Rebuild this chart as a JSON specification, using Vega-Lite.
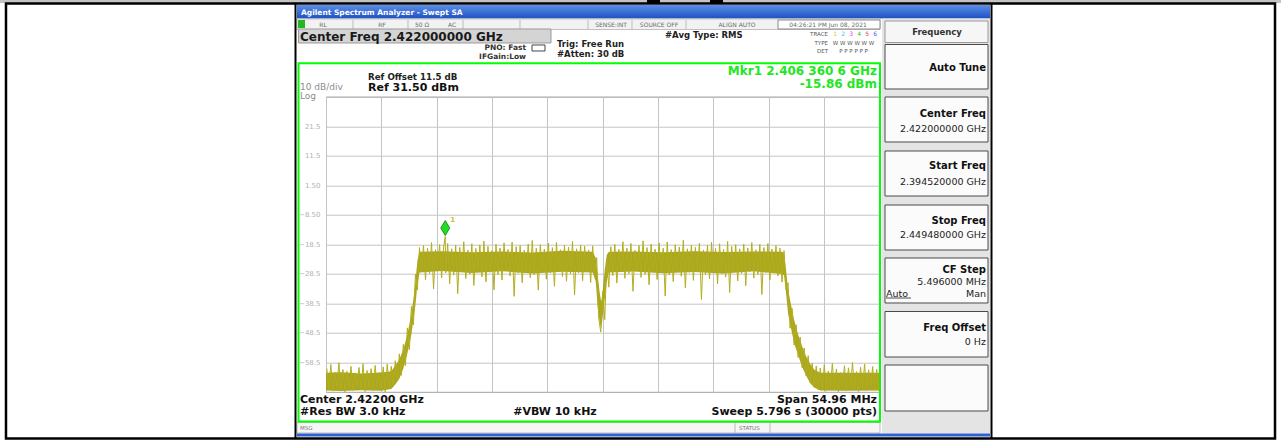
{
"$schema":"https://vega.github.io/schema/vega-lite/v6.json",
"width":553.5,"height":295.3,
"autosize":{"type":"none"},
"padding":{"left":326,"top":96.7,"right":401.5,"bottom":49},
"background":"white",
"config":{"font":"DejaVu Sans","view":{"stroke":"#8a8a8a","strokeWidth":1}},
"datasets":{
"trace":[
{"f":2394.6,"d":-60.5},{"f":2394.8,"d":-67.4},{"f":2395.0,"d":-59.2},{"f":2395.2,"d":-68.2},{"f":2395.4,"d":-61.8},{"f":2395.6,"d":-66.8},{"f":2395.8,"d":-58.6},{"f":2396.0,"d":-67.9},{"f":2396.2,"d":-60.9},{"f":2396.4,"d":-68.4},{"f":2396.6,"d":-61.5},{"f":2396.8,"d":-67.1},{"f":2397.0,"d":-59.8},{"f":2397.2,"d":-68.0},{"f":2397.4,"d":-62.0},{"f":2397.6,"d":-66.5},{"f":2397.8,"d":-60.2},{"f":2398.0,"d":-67.7},{"f":2398.2,"d":-58.9},{"f":2398.4,"d":-68.3},{"f":2398.6,"d":-61.2},{"f":2398.8,"d":-67.0},{"f":2399.0,"d":-60.6},{"f":2399.2,"d":-68.1},{"f":2399.4,"d":-59.5},{"f":2399.6,"d":-66.9},{"f":2399.8,"d":-61.9},{"f":2400.0,"d":-67.6},{"f":2400.2,"d":-60.0},{"f":2400.4,"d":-68.4},{"f":2400.6,"d":-59.1},{"f":2400.8,"d":-67.2},
{"f":2401.0,"d":-59.8},{"f":2401.2,"d":-66.5},{"f":2401.4,"d":-57.9},{"f":2401.6,"d":-64.8},{"f":2401.8,"d":-55.6},{"f":2402.0,"d":-62.9},{"f":2402.2,"d":-52.4},{"f":2402.4,"d":-59.6},{"f":2402.6,"d":-46.8},{"f":2402.8,"d":-54.2},{"f":2403.0,"d":-39.5},{"f":2403.2,"d":-45.8},{"f":2403.4,"d":-28.6},{"f":2403.6,"d":-33.9},
{"f":2403.8,"d":-19.6},{"f":2404.0,"d":-27.8},{"f":2404.2,"d":-18.9},{"f":2404.4,"d":-30.5},{"f":2404.6,"d":-19.8},{"f":2404.8,"d":-28.4},{"f":2405.0,"d":-17.9},{"f":2405.2,"d":-33.6},{"f":2405.4,"d":-20.3},{"f":2405.6,"d":-27.1},{"f":2405.8,"d":-18.6},{"f":2406.0,"d":-29.9},{"f":2406.2,"d":-19.4},{"f":2406.36,"d":-15.86},{"f":2406.4,"d":-28.2},{"f":2406.6,"d":-18.2},{"f":2406.8,"d":-31.8},{"f":2407.0,"d":-20.0},{"f":2407.2,"d":-28.9},{"f":2407.4,"d":-18.8},{"f":2407.6,"d":-35.2},{"f":2407.8,"d":-19.5},{"f":2408.0,"d":-27.6},{"f":2408.2,"d":-17.6},{"f":2408.4,"d":-30.1},{"f":2408.6,"d":-20.4},{"f":2408.8,"d":-28.6},{"f":2409.0,"d":-18.3},{"f":2409.2,"d":-32.4},{"f":2409.4,"d":-19.9},{"f":2409.6,"d":-27.3},{"f":2409.8,"d":-18.7},{"f":2410.0,"d":-29.5},{"f":2410.2,"d":-17.4},{"f":2410.4,"d":-31.2},{"f":2410.6,"d":-19.2},{"f":2410.8,"d":-28.0},{"f":2411.0,"d":-20.6},{"f":2411.2,"d":-33.9},{"f":2411.4,"d":-18.5},{"f":2411.6,"d":-28.7},{"f":2411.8,"d":-19.7},{"f":2412.0,"d":-30.6},{"f":2412.2,"d":-18.0},{"f":2412.4,"d":-27.5},{"f":2412.6,"d":-20.2},{"f":2412.8,"d":-29.2},{"f":2413.0,"d":-17.7},{"f":2413.2,"d":-36.1},{"f":2413.4,"d":-19.3},{"f":2413.6,"d":-28.3},{"f":2413.8,"d":-18.9},{"f":2414.0,"d":-31.5},{"f":2414.2,"d":-20.5},{"f":2414.4,"d":-27.9},{"f":2414.6,"d":-18.4},{"f":2414.8,"d":-29.8},{"f":2415.0,"d":-17.2},{"f":2415.2,"d":-28.8},{"f":2415.4,"d":-19.8},{"f":2415.6,"d":-34.0},{"f":2415.8,"d":-18.6},{"f":2416.0,"d":-27.4},{"f":2416.2,"d":-20.1},{"f":2416.4,"d":-30.3},{"f":2416.6,"d":-18.1},{"f":2416.8,"d":-28.1},{"f":2417.0,"d":-19.6},{"f":2417.2,"d":-32.7},{"f":2417.4,"d":-17.9},{"f":2417.6,"d":-27.7},{"f":2417.8,"d":-20.3},{"f":2418.0,"d":-29.4},{"f":2418.2,"d":-18.8},{"f":2418.4,"d":-31.0},{"f":2418.6,"d":-19.4},{"f":2418.8,"d":-28.5},{"f":2419.0,"d":-17.5},{"f":2419.2,"d":-35.6},{"f":2419.4,"d":-20.0},{"f":2419.6,"d":-28.2},{"f":2419.8,"d":-18.7},{"f":2420.0,"d":-30.8},{"f":2420.2,"d":-19.1},{"f":2420.4,"d":-27.6},{"f":2420.6,"d":-20.4},{"f":2420.8,"d":-31.4},{"f":2421.0,"d":-19.0},{"f":2421.2,"d":-29.6},
{"f":2421.4,"d":-23.0},{"f":2421.6,"d":-43.5},{"f":2421.8,"d":-48.2},{"f":2422.0,"d":-34.5},{"f":2422.2,"d":-44.0},{"f":2422.4,"d":-24.0},{"f":2422.6,"d":-33.0},
{"f":2422.8,"d":-19.3},{"f":2423.0,"d":-29.1},{"f":2423.2,"d":-18.5},{"f":2423.4,"d":-31.6},{"f":2423.6,"d":-20.2},{"f":2423.8,"d":-27.8},{"f":2424.0,"d":-17.6},{"f":2424.2,"d":-30.0},{"f":2424.4,"d":-19.7},{"f":2424.6,"d":-28.4},{"f":2424.8,"d":-18.2},{"f":2425.0,"d":-34.4},{"f":2425.2,"d":-20.5},{"f":2425.4,"d":-27.2},{"f":2425.6,"d":-18.9},{"f":2425.8,"d":-29.7},{"f":2426.0,"d":-17.3},{"f":2426.2,"d":-28.6},{"f":2426.4,"d":-19.6},{"f":2426.6,"d":-32.2},{"f":2426.8,"d":-18.4},{"f":2427.0,"d":-27.5},{"f":2427.2,"d":-20.1},{"f":2427.4,"d":-30.4},{"f":2427.6,"d":-18.0},{"f":2427.8,"d":-28.2},{"f":2428.0,"d":-19.8},{"f":2428.2,"d":-36.0},{"f":2428.4,"d":-17.7},{"f":2428.6,"d":-28.9},{"f":2428.8,"d":-20.3},{"f":2429.0,"d":-31.1},{"f":2429.2,"d":-18.6},{"f":2429.4,"d":-27.7},{"f":2429.6,"d":-19.4},{"f":2429.8,"d":-29.3},{"f":2430.0,"d":-17.1},{"f":2430.2,"d":-33.2},{"f":2430.4,"d":-20.0},{"f":2430.6,"d":-28.0},{"f":2430.8,"d":-18.8},{"f":2431.0,"d":-30.7},{"f":2431.2,"d":-19.5},{"f":2431.4,"d":-27.4},{"f":2431.6,"d":-18.1},{"f":2431.8,"d":-37.2},{"f":2432.0,"d":-20.4},{"f":2432.2,"d":-28.8},{"f":2432.4,"d":-18.7},{"f":2432.6,"d":-30.2},{"f":2432.8,"d":-17.8},{"f":2433.0,"d":-27.9},{"f":2433.2,"d":-19.9},{"f":2433.4,"d":-31.9},{"f":2433.6,"d":-18.3},{"f":2433.8,"d":-28.4},{"f":2434.0,"d":-20.2},{"f":2434.2,"d":-29.6},{"f":2434.4,"d":-17.5},{"f":2434.6,"d":-34.8},{"f":2434.8,"d":-19.2},{"f":2435.0,"d":-27.6},{"f":2435.2,"d":-18.6},{"f":2435.4,"d":-30.9},{"f":2435.6,"d":-20.0},{"f":2435.8,"d":-28.3},{"f":2436.0,"d":-18.4},{"f":2436.2,"d":-32.5},{"f":2436.4,"d":-19.7},{"f":2436.6,"d":-27.8},{"f":2436.8,"d":-17.9},{"f":2437.0,"d":-29.9},{"f":2437.2,"d":-20.3},{"f":2437.4,"d":-28.7},{"f":2437.6,"d":-18.5},{"f":2437.8,"d":-35.5},{"f":2438.0,"d":-19.6},{"f":2438.2,"d":-28.1},{"f":2438.4,"d":-18.2},{"f":2438.6,"d":-30.5},{"f":2438.8,"d":-20.1},{"f":2439.0,"d":-27.9},{"f":2439.2,"d":-18.9},{"f":2439.4,"d":-29.2},{"f":2439.6,"d":-19.8},{"f":2439.8,"d":-31.3},
{"f":2440.0,"d":-20.6},{"f":2440.2,"d":-33.8},{"f":2440.4,"d":-31.5},{"f":2440.6,"d":-46.9},{"f":2440.8,"d":-40.2},{"f":2441.0,"d":-52.6},{"f":2441.2,"d":-45.7},{"f":2441.4,"d":-56.8},{"f":2441.6,"d":-49.9},{"f":2441.8,"d":-60.3},{"f":2442.0,"d":-53.6},{"f":2442.2,"d":-63.1},{"f":2442.4,"d":-56.2},{"f":2442.6,"d":-65.4},{"f":2442.8,"d":-58.8},{"f":2443.0,"d":-66.9},{"f":2443.2,"d":-59.7},{"f":2443.4,"d":-67.8},{"f":2443.6,"d":-60.4},
{"f":2443.8,"d":-67.5},{"f":2444.0,"d":-59.3},{"f":2444.2,"d":-68.2},{"f":2444.4,"d":-61.4},{"f":2444.6,"d":-66.9},{"f":2444.8,"d":-58.8},{"f":2445.0,"d":-67.8},{"f":2445.2,"d":-60.7},{"f":2445.4,"d":-68.4},{"f":2445.6,"d":-61.9},{"f":2445.8,"d":-67.0},{"f":2446.0,"d":-59.6},{"f":2446.2,"d":-68.1},{"f":2446.4,"d":-60.3},{"f":2446.6,"d":-66.6},{"f":2446.8,"d":-58.5},{"f":2447.0,"d":-67.6},{"f":2447.2,"d":-61.6},{"f":2447.4,"d":-68.3},{"f":2447.6,"d":-60.1},{"f":2447.8,"d":-67.2},{"f":2448.0,"d":-59.0},{"f":2448.2,"d":-68.0},{"f":2448.4,"d":-61.0},{"f":2448.6,"d":-66.8},{"f":2448.8,"d":-59.9},{"f":2449.0,"d":-67.9},{"f":2449.2,"d":-60.8},{"f":2449.4,"d":-68.2}
],
"env":[
{"f":2394.52,"d":-62,"d2":-68},{"f":2396.0,"d":-61.8,"d2":-68.2},{"f":2398.0,"d":-62.2,"d2":-67.9},{"f":2400.0,"d":-61.9,"d2":-68.1},{"f":2401.0,"d":-61.5,"d2":-67.5},{"f":2401.4,"d":-59.5,"d2":-66},{"f":2401.8,"d":-57.5,"d2":-64},{"f":2402.2,"d":-54,"d2":-60.5},{"f":2402.6,"d":-49,"d2":-55.5},{"f":2403.0,"d":-42,"d2":-49},{"f":2403.2,"d":-37,"d2":-44},{"f":2403.4,"d":-31,"d2":-39},{"f":2403.6,"d":-24,"d2":-32},{"f":2403.8,"d":-21,"d2":-28},{"f":2406,"d":-20.8,"d2":-27.5},{"f":2409,"d":-21.2,"d2":-28.2},{"f":2412,"d":-20.9,"d2":-27.6},{"f":2415,"d":-21.3,"d2":-28.4},{"f":2418,"d":-20.7,"d2":-27.8},{"f":2421.0,"d":-21,"d2":-28},{"f":2421.3,"d":-23,"d2":-31},{"f":2421.5,"d":-29,"d2":-40},{"f":2421.7,"d":-35,"d2":-45},{"f":2421.85,"d":-38,"d2":-47},{"f":2422.0,"d":-34,"d2":-43},{"f":2422.2,"d":-27,"d2":-37},{"f":2422.4,"d":-22,"d2":-31},{"f":2422.6,"d":-21,"d2":-28},{"f":2425,"d":-20.9,"d2":-27.7},{"f":2428,"d":-21.2,"d2":-28.3},{"f":2431,"d":-20.8,"d2":-27.9},{"f":2434,"d":-21.1,"d2":-28.4},{"f":2437,"d":-20.9,"d2":-27.6},{"f":2439.8,"d":-21,"d2":-28.5},{"f":2440.0,"d":-21.5,"d2":-29},{"f":2440.2,"d":-27,"d2":-35},{"f":2440.4,"d":-34,"d2":-42},{"f":2440.7,"d":-39,"d2":-47},{"f":2441.0,"d":-44,"d2":-52},{"f":2441.4,"d":-49,"d2":-56},{"f":2441.8,"d":-53,"d2":-60},{"f":2442.2,"d":-56.5,"d2":-63},{"f":2442.6,"d":-59,"d2":-65.5},{"f":2443.0,"d":-61,"d2":-67},{"f":2443.6,"d":-62,"d2":-68},{"f":2446,"d":-62,"d2":-68.1},{"f":2449.48,"d":-62,"d2":-68}
]
},
"encoding":{
"x":{"field":"f","type":"quantitative","scale":{"domain":[2394.52,2449.48],"nice":false,"zero":false},
"axis":{"values":[2394.52,2400.016,2405.512,2411.008,2416.504,2422.0,2427.496,2432.992,2438.488,2443.984,2449.48],"labels":false,"ticks":false,"domain":false,"title":null,"grid":true,"gridColor":"#c4c4c4","gridOpacity":1}},
"y":{"field":"d","type":"quantitative","scale":{"domain":[-68.5,31.5],"nice":false,"zero":false},
"axis":{"values":[31.5,21.5,11.5,1.5,-8.5,-18.5,-28.5,-38.5,-48.5,-58.5,-68.5],"labelExpr":"datum.value > 30 || datum.value < -60 ? '' : format(datum.value, '.3g')","ticks":false,"domain":false,"title":null,"grid":true,"gridColor":"#c4c4c4","gridOpacity":1,"labelFontSize":7,"labelColor":"#b2b2b2","labelPadding":6,"labelFont":"DejaVu Sans"}}
},
"layer":[
{"data":{"values":[{"f":2362.15,"f2":2489.348,"d":64.246,"d2":63.23}]},"mark":{"type":"rect","fill":"#c3c3c3"},"encoding":{"x2":{"field":"f2"},"y2":{"field":"d2"}}},
{"data":{"values":[{"f":2426.394,"f2":2427.685,"d":64.246,"d2":63.128},{"f":2432.649,"f2":2433.94,"d":64.246,"d2":63.128}]},"mark":{"type":"rect","fill":"#000000"},"encoding":{"x2":{"field":"f2"},"y2":{"field":"d2"}}},
{"data":{"values":[{"f":2391.64,"f2":2460.453,"d":62.553,"d2":57.982}]},"mark":{"type":"rect","fill":{"gradient":"linear","x1":0,"y1":0,"x2":0,"y2":1,"stops":[{"offset":0,"color":"#5b8fe8"},{"offset":1,"color":"#1e50c2"}]}},"encoding":{"x2":{"field":"f2"},"y2":{"field":"d2"}}},
{"data":{"values":[{"f":2391.64,"f2":2449.53,"d":57.812,"d2":54.257}]},"mark":{"type":"rect","fill":"#f2f2f2","stroke":"#c0c0c0","strokeWidth":1},"encoding":{"x2":{"field":"f2"},"y2":{"field":"d2"}}},
{"data":{"values":[{"f":2439.402,"f2":2449.53,"d":57.474,"d2":54.426}]},"mark":{"type":"rect","fill":"#ffffff","stroke":"#8a8a8a","strokeWidth":1},"encoding":{"x2":{"field":"f2"},"y2":{"field":"d2"}}},
{"data":{"values":[{"f":2391.74,"f2":2392.435,"d":57.474,"d2":54.765}]},"mark":{"type":"rect","fill":"#22b822"},"encoding":{"x2":{"field":"f2"},"y2":{"field":"d2"}}},
{"data":{"values":[{"f":2397.201,"d":57.474,"d2":54.426},{"f":2402.662,"d":57.474,"d2":54.426},{"f":2408.124,"d":57.474,"d2":54.426},{"f":2413.783,"d":57.474,"d2":54.426},{"f":2420.536,"d":57.474,"d2":54.426},{"f":2424.905,"d":57.474,"d2":54.426},{"f":2430.267,"d":57.474,"d2":54.426}]},"mark":{"type":"rule","color":"#bdbdbd","strokeWidth":1},"encoding":{"y2":{"field":"d2"}}},
{"data":{"values":[{"f":2391.789,"f2":2416.861,"d":54.426,"d2":49.685}]},"mark":{"type":"rect","fill":"#d4d4d4","stroke":"#9a9a9a","strokeWidth":1},"encoding":{"x2":{"field":"f2"},"y2":{"field":"d2"}}},
{"data":{"values":[{"f":2414.975,"f2":2416.265,"d":49.008,"d2":46.976}]},"mark":{"type":"rect","fill":"#ffffff","stroke":"#444444","strokeWidth":1},"encoding":{"x2":{"field":"f2"},"y2":{"field":"d2"}}},
{"data":{"values":[{"f":2449.729,"f2":2460.453,"d":57.982,"d2":-82.554}]},"mark":{"type":"rect","fill":"#e4e4e4"},"encoding":{"x2":{"field":"f2"},"y2":{"field":"d2"}}},
{"data":{"values":[{"f":2450.027,"f2":2460.254,"d":57.135,"d2":49.854}]},"mark":{"type":"rect","fill":"#f6f6f6","stroke":"#9a9a9a","strokeWidth":1},"encoding":{"x2":{"field":"f2"},"y2":{"field":"d2"}}},
{"data":{"values":[{"f":2450.027,"f2":2460.254,"d":49.177,"d2":34.108},{"f":2450.027,"f2":2460.254,"d":31.398,"d2":16.16},{"f":2450.027,"f2":2460.254,"d":13.112,"d2":-2.127},{"f":2450.027,"f2":2460.254,"d":-5.175,"d2":-20.413},{"f":2450.027,"f2":2460.254,"d":-23.122,"d2":-38.361},{"f":2450.027,"f2":2460.254,"d":-41.24,"d2":-56.648},{"f":2450.027,"f2":2460.254,"d":-59.357,"d2":-74.934}]},"mark":{"type":"rect","fill":"#fbfbfb","stroke":"#4a4a4a","strokeWidth":1},"encoding":{"x2":{"field":"f2"},"y2":{"field":"d2"}}},
{"data":{"values":[{"f":2391.64,"f2":2449.53,"d":-78.828,"d2":-82.384}]},"mark":{"type":"rect","fill":"#f6f6f6","stroke":"#bbbbbb","strokeWidth":1},"encoding":{"x2":{"field":"f2"},"y2":{"field":"d2"}}},
{"data":{"values":[{"f":2435.133,"d":-78.828,"d2":-82.384},{"f":2438.608,"d":-78.828,"d2":-82.384}]},"mark":{"type":"rule","color":"#bbbbbb","strokeWidth":1},"encoding":{"y2":{"field":"d2"}}},
{"data":{"values":[{"f":2391.64,"f2":2460.453,"d":-82.554,"d2":-83.57}]},"mark":{"type":"rect","fill":"#2f62d0"},"encoding":{"x2":{"field":"f2"},"y2":{"field":"d2"}}},
{"data":{"values":[{"f":2391.789,"f2":2449.53,"d":42.811,"d2":-78.49}]},"mark":{"type":"rect","filled":false,"color":"#00ff00","strokeWidth":2},"encoding":{"x2":{"field":"f2"},"y2":{"field":"d2"}}},
{"data":{"values":[{"f":2362.745,"f2":2488.752,"d":63.061,"d2":-84.247}]},"mark":{"type":"rect","filled":false,"color":"#000000","strokeWidth":2.5},"encoding":{"x2":{"field":"f2"},"y2":{"field":"d2"}}},
{"data":{"values":[{"f":2391.492,"d":63.061,"d2":-84.247},{"f":2460.601,"d":63.061,"d2":-84.247}]},"mark":{"type":"rule","color":"#000000","strokeWidth":2},"encoding":{"y2":{"field":"d2"}}},
{"data":{"name":"env"},"mark":{"type":"area","color":"#a6a214","opacity":0.95},"encoding":{"y2":{"field":"d2"}}},
{"data":{"name":"trace"},"mark":{"type":"line","color":"#b2ae1e","strokeWidth":1},"encoding":{}},
{"data":{"values":[{"f":2406.36,"d":-15.86}]},"mark":{"type":"point","shape":"M0,-1L0.6,0L0,1L-0.6,0Z","size":225,"filled":true,"fill":"#22dd22","stroke":"#0b7d0b","strokeWidth":0.8,"opacity":1,"yOffset":-8.5}},
{"data":{"values":[{"f":2406.36,"d":-15.86,"t":"1"}]},"mark":{"type":"text","fontSize":7,"fontWeight":"bold","color":"#c8c030","dx":7.5,"dy":-17,"baseline":"middle"},"encoding":{"text":{"field":"t"}}},
{"data":{"values":[{"f":2392.038,"d":59.675,"t":"Agilent Spectrum Analyzer - Swept SA"}]},"mark":{"type":"text","align":"left","baseline":"middle","fontSize":7.5,"fontWeight":"bold","color":"#ffffff"},"encoding":{"text":{"field":"t"}}},
{"data":{"values":[{"f":2394.222,"d":55.882,"t":"RL"},{"f":2400.08,"d":55.882,"t":"RF"},{"f":2404.052,"d":55.882,"t":"50 Ω"},{"f":2407.031,"d":55.882,"t":"AC"},{"f":2422.819,"d":55.882,"t":"SENSE:INT"},{"f":2427.586,"d":55.882,"t":"SOURCE OFF"},{"f":2435.331,"d":55.882,"t":"ALIGN AUTO"},{"f":2444.366,"d":55.882,"t":"04:26:21 PM Jun 08, 2021"}]},"mark":{"type":"text","align":"center","baseline":"middle","fontSize":6,"color":"#6a6a6a"},"encoding":{"text":{"field":"t"}}},
{"data":{"values":[{"f":2391.938,"d":51.886,"t":"Center Freq 2.422000000 GHz"}]},"mark":{"type":"text","align":"left","baseline":"middle","fontSize":12,"fontWeight":"bold","color":"#1a1a1a"},"encoding":{"text":{"field":"t"}}},
{"data":{"values":[{"f":2414.379,"d":47.992,"t":"PNO: Fast"},{"f":2414.379,"d":45.113,"t":"IFGain:Low"}]},"mark":{"type":"text","align":"right","baseline":"middle","fontSize":7.5,"fontWeight":"bold","color":"#333333"},"encoding":{"text":{"field":"t"}}},
{"data":{"values":[{"f":2417.457,"d":49.347,"t":"Trig: Free Run"},{"f":2417.457,"d":45.96,"t":"#Atten: 30 dB"},{"f":2428.181,"d":52.394,"t":"#Avg Type: RMS"}]},"mark":{"type":"text","align":"left","baseline":"middle","fontSize":8.5,"fontWeight":"bold","color":"#222222"},"encoding":{"text":{"field":"t"}}},
{"data":{"values":[{"f":2444.366,"d":52.732,"t":"TRACE"},{"f":2444.366,"d":49.685,"t":"TYPE"},{"f":2444.366,"d":46.807,"t":"DET"}]},"mark":{"type":"text","align":"right","baseline":"middle","fontSize":5.5,"color":"#555555"},"encoding":{"text":{"field":"t"}}},
{"data":{"values":[{"f":2445.066,"d":52.732,"t":"1"},{"f":2445.86,"d":52.732,"t":"2"},{"f":2446.655,"d":52.732,"t":"3"},{"f":2447.449,"d":52.732,"t":"4"},{"f":2448.243,"d":52.732,"t":"5"},{"f":2449.038,"d":52.732,"t":"6"}]},"mark":{"type":"text","align":"center","baseline":"middle","fontSize":6},"encoding":{"text":{"field":"t"},"color":{"field":"t","type":"nominal","scale":{"domain":["1","2","3","4","5","6"],"range":["#d8cc20","#40b8ff","#ee44ee","#30c030","#e04060","#4060ff"]},"legend":null}}},
{"data":{"values":[{"f":2446.9,"d":49.685,"t":"W W W W W W"},{"f":2446.9,"d":46.807,"t":"P P P P P P"}]},"mark":{"type":"text","align":"center","baseline":"middle","fontSize":5.5,"color":"#555555"},"encoding":{"text":{"field":"t"}}},
{"data":{"values":[{"f":2398.69,"d":38.07,"t":"Ref Offset 11.5 dB"}]},"mark":{"type":"text","align":"left","baseline":"middle","fontSize":8.7,"fontWeight":"bold","color":"#222222"},"encoding":{"text":{"field":"t"}}},
{"data":{"values":[{"f":2398.69,"d":34.446,"t":"Ref 31.50 dBm"}]},"mark":{"type":"text","align":"left","baseline":"middle","fontSize":11,"fontWeight":"bold","color":"#111111"},"encoding":{"text":{"field":"t"}}},
{"data":{"values":[{"f":2391.938,"d":34.683,"t":"10 dB/div"},{"f":2391.938,"d":31.568,"t":"Log"}]},"mark":{"type":"text","align":"left","baseline":"middle","fontSize":9,"color":"#8c8c8c"},"encoding":{"text":{"field":"t"}}},
{"data":{"values":[{"f":2449.232,"d":40.305,"t":"Mkr1 2.406 360 6 GHz"},{"f":2449.232,"d":35.97,"t":"-15.86 dBm"}]},"mark":{"type":"text","align":"right","baseline":"middle","fontSize":12,"fontWeight":"bold","color":"#22e622"},"encoding":{"text":{"field":"t"}}},
{"data":{"values":[{"f":2391.938,"d":-71.209,"t":"Center 2.42200 GHz"},{"f":2391.938,"d":-75.442,"t":"#Res BW 3.0 kHz"}]},"mark":{"type":"text","align":"left","baseline":"middle","fontSize":11,"fontWeight":"bold","color":"#111111"},"encoding":{"text":{"field":"t"}}},
{"data":{"values":[{"f":2417.258,"d":-75.442,"t":"#VBW 10 kHz"}]},"mark":{"type":"text","align":"center","baseline":"middle","fontSize":11,"fontWeight":"bold","color":"#111111"},"encoding":{"text":{"field":"t"}}},
{"data":{"values":[{"f":2449.232,"d":-71.209,"t":"Span 54.96 MHz"},{"f":2449.232,"d":-75.442,"t":"Sweep  5.796 s (30000 pts)"}]},"mark":{"type":"text","align":"right","baseline":"middle","fontSize":11,"fontWeight":"bold","color":"#111111"},"encoding":{"text":{"field":"t"}}},
{"data":{"values":[{"f":2391.938,"d":-80.691,"t":"MSG"},{"f":2435.529,"d":-80.691,"t":"STATUS"}]},"mark":{"type":"text","align":"left","baseline":"middle","fontSize":5.5,"color":"#777777"},"encoding":{"text":{"field":"t"}}},
{"data":{"values":[{"f":2455.19,"d":53.241,"t":"Frequency"}]},"mark":{"type":"text","align":"center","baseline":"middle","fontSize":8.5,"fontWeight":"bold","color":"#333333"},"encoding":{"text":{"field":"t"}}},
{"data":{"values":[{"f":2460.055,"d":41.388,"t":"Auto Tune"},{"f":2460.055,"d":25.642,"t":"Center Freq"},{"f":2460.055,"d":8.032,"t":"Start Freq"},{"f":2460.055,"d":-10.424,"t":"Stop Freq"},{"f":2460.055,"d":-27.355,"t":"CF Step"},{"f":2460.055,"d":-46.658,"t":"Freq Offset"}]},"mark":{"type":"text","align":"right","baseline":"middle","fontSize":10,"fontWeight":"bold","color":"#111111"},"encoding":{"text":{"field":"t"}}},
{"data":{"values":[{"f":2460.055,"d":20.731,"t":"2.422000000 GHz"},{"f":2460.055,"d":2.614,"t":"2.394520000 GHz"},{"f":2460.055,"d":-15.503,"t":"2.449480000 GHz"},{"f":2460.055,"d":-31.419,"t":"5.496000 MHz"},{"f":2460.055,"d":-35.313,"t":"Man"},{"f":2460.055,"d":-51.737,"t":"0 Hz"}]},"mark":{"type":"text","align":"right","baseline":"middle","fontSize":9.5,"color":"#222222"},"encoding":{"text":{"field":"t"}}},
{"data":{"values":[{"f":2450.126,"d":-35.313,"t":"Auto"}]},"mark":{"type":"text","align":"left","baseline":"middle","fontSize":9.5,"color":"#222222"},"encoding":{"text":{"field":"t"}}},
{"data":{"values":[{"f":2450.126,"f2":2452.608,"d":-36.668}]},"mark":{"type":"rule","color":"#222222","strokeWidth":0.8},"encoding":{"x2":{"field":"f2"}}}
]
}
